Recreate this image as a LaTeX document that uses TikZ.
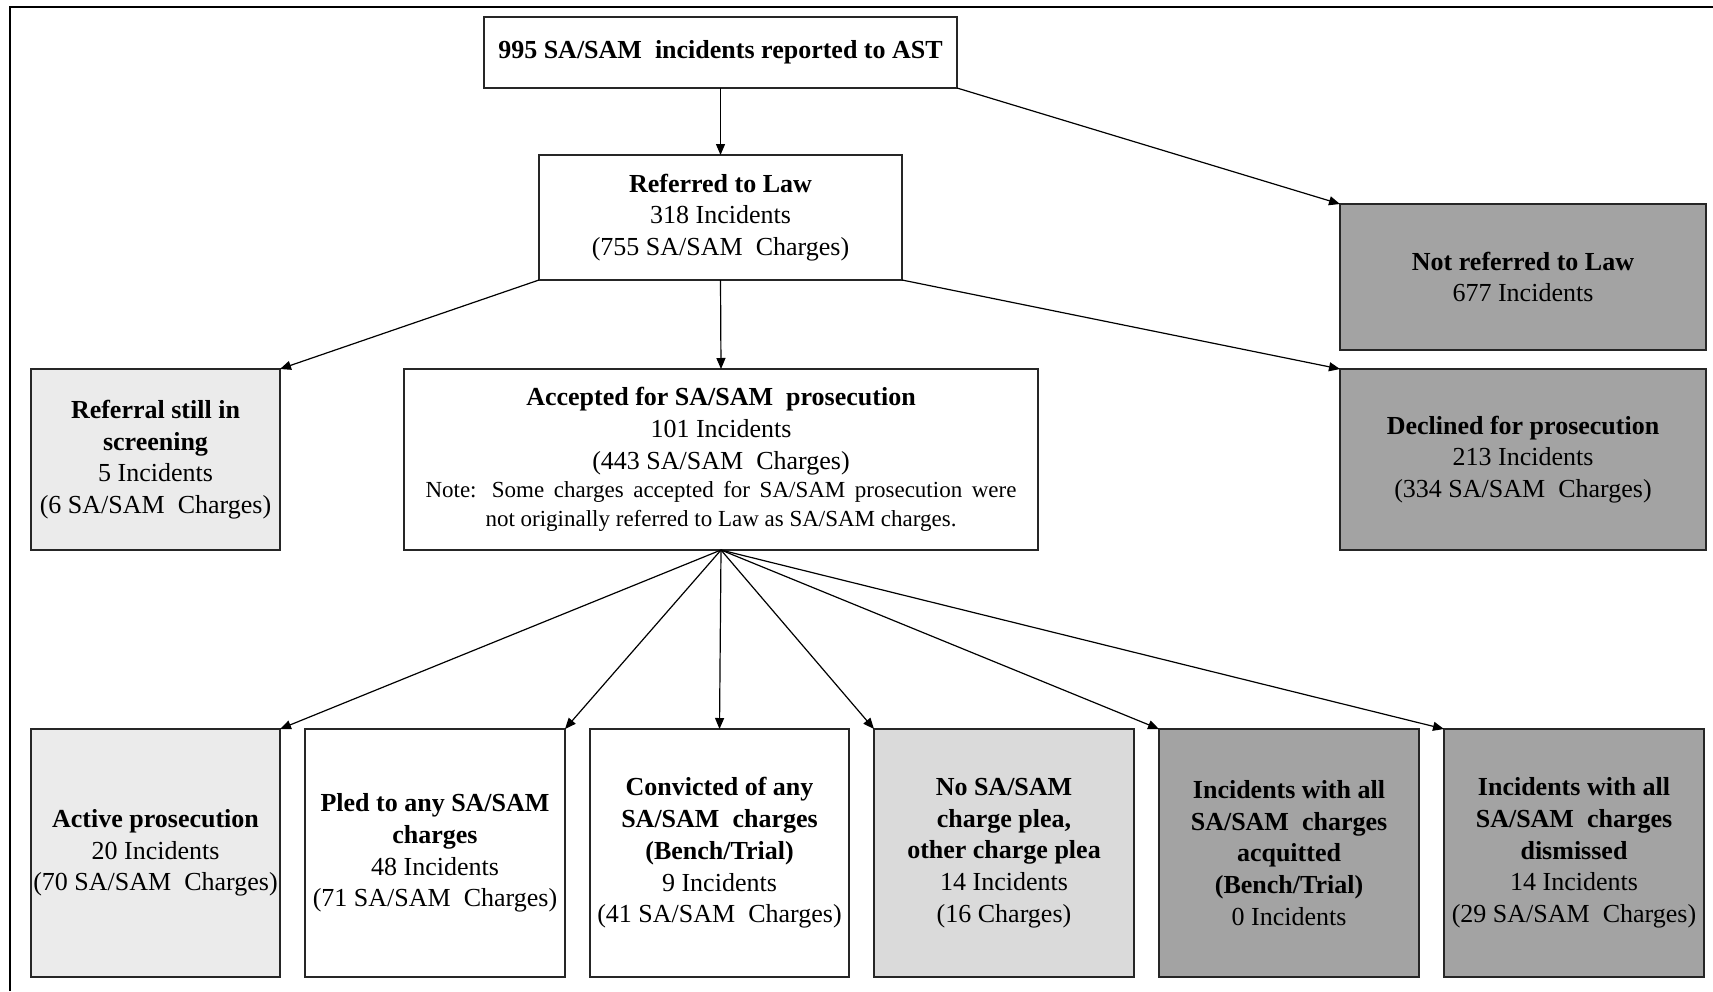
\documentclass[tikz,border=0pt]{standalone}
\usepackage{fontspec}
\setmainfont{Liberation Serif}
\usetikzlibrary{arrows.meta}
\definecolor{lightfill}{HTML}{EBEBEB}
\definecolor{midfill}{HTML}{DADADA}
\definecolor{darkfill}{HTML}{A3A3A3}
\newcommand{\notefont}{\fontsize{11.5}{14.75}\selectfont}

\begin{document}
\begin{tikzpicture}[x=0.5pt,y=-0.5pt,
  box/.style={draw=black!85,line width=0.8pt,fill=white,align=center,inner sep=0pt,outer sep=0pt,
    font=\fontsize{13}{15.85}\selectfont},
  lightbox/.style={box,fill=lightfill},
  midbox/.style={box,fill=midfill},
  darkbox/.style={box,fill=darkfill},
  arr/.style={-{Triangle[length=5.5pt,width=4.5pt]},line width=0.6pt}]
\useasboundingbox (0,0) rectangle (1713,991);
\draw[line width=1.2pt] (10,991) -- (10,7) -- (1713,7);

% top levels
\node[box,minimum width=236.5pt,minimum height=35.5pt] (rep) at (720.5,52.5)
  {\textbf{995 SA/SAM~ incidents reported to AST}};
\node[box,minimum width=181.5pt,minimum height=62.5pt] (law) at (720.5,217.5)
  {\textbf{Referred to Law}\\318 Incidents\\(755 SA/SAM~ Charges)};
\node[darkbox,minimum width=183pt,minimum height=73pt] (notlaw) at (1523,277)
  {\textbf{Not referred to Law}\\677 Incidents};

% second level
\node[lightbox,minimum width=124.5pt,minimum height=90.5pt] (screen) at (155.5,459.5)
  {\textbf{Referral still in}\\\textbf{screening}\\5 Incidents\\(6 SA/SAM~ Charges)};
\node[box,minimum width=317pt,minimum height=90.5pt] (acc) at (721,459.5)
  {\textbf{Accepted for SA/SAM~ prosecution}\\101 Incidents\\(443 SA/SAM~ Charges)\\[-1.5pt]
   {\notefont\makebox[295.5pt][s]{Note: Some charges accepted for SA/SAM prosecution were}}\\[-1.5pt]
   {\notefont not originally referred to Law as SA/SAM charges.}};
\node[darkbox,minimum width=183pt,minimum height=90.5pt] (decl) at (1523,459.5)
  {\textbf{Declined for prosecution}\\213 Incidents\\(334 SA/SAM~ Charges)};

% outcomes
\node[lightbox,minimum width=124.5pt,minimum height=124pt] (active) at (155.5,853)
  {\textbf{Active prosecution}\\20 Incidents\\(70 SA/SAM~ Charges)};
\node[box,minimum width=130pt,minimum height=124pt] (pled) at (435,853)
  {\textbf{Pled to any SA/SAM}\\\textbf{charges}\\48 Incidents\\(71 SA/SAM~ Charges)};
\node[box,minimum width=129.5pt,minimum height=124pt] (conv) at (719.5,853)
  {\textbf{Convicted of any}\\\textbf{SA/SAM~ charges}\\\textbf{(Bench/Trial)}\\9 Incidents\\(41 SA/SAM~ Charges)};
\node[midbox,minimum width=130pt,minimum height=124pt] (noplea) at (1004,853)
  {\textbf{No SA/SAM}\\\textbf{charge plea,}\\\textbf{other charge plea}\\14 Incidents\\(16 Charges)};
\node[darkbox,minimum width=130pt,minimum height=124pt] (acq) at (1289,853)
  {\textbf{Incidents with all}\\\textbf{SA/SAM~ charges}\\\textbf{acquitted}\\\textbf{(Bench/Trial)}\\0 Incidents};
\node[darkbox,minimum width=130pt,minimum height=124pt] (dism) at (1574,853)
  {\textbf{Incidents with all}\\\textbf{SA/SAM~ charges}\\\textbf{dismissed}\\14 Incidents\\(29 SA/SAM~ Charges)};

% connectors
\draw[arr] (rep.south) -- (law.north);
\draw[arr] (rep.south east) -- (notlaw.north west);
\draw[arr] (law.south west) -- (screen.north east);
\draw[arr] (law.south) -- (acc.north);
\draw[arr] (law.south east) -- (decl.north west);
\draw[arr] (acc.south) -- (active.north east);
\draw[arr] (acc.south) -- (pled.north east);
\draw[arr] (acc.south) -- (conv.north);
\draw[arr] (acc.south) -- (noplea.north west);
\draw[arr] (acc.south) -- (acq.north west);
\draw[arr] (acc.south) -- (dism.north west);
\end{tikzpicture}
\end{document}
